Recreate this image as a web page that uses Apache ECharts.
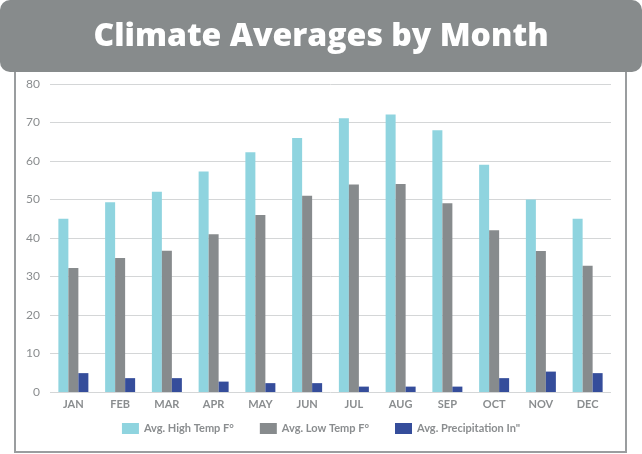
<!DOCTYPE html>
<html><head><meta charset="utf-8">
<script src="https://cdn.jsdelivr.net/npm/echarts@6/dist/echarts.min.js"></script>
<style>html,body{margin:0;padding:0;background:#fff}#c{width:642px;height:454px}</style>
</head><body><div id="c"></div>
<script>
const months = ['JAN','FEB','MAR','APR','MAY','JUN','JUL','AUG','SEP','OCT','NOV','DEC'];
const highTemp = [45, 49.3, 52, 57.3, 62.3, 66, 71.1, 72.1, 68, 59, 50, 45];
const lowTemp = [32.2, 34.8, 36.7, 41, 46, 51, 53.9, 54, 49, 42, 36.6, 32.8];
const precip = [4.9, 3.6, 3.6, 2.7, 2.3, 2.3, 1.4, 1.4, 1.4, 3.6, 5.3, 4.9];
const seriesNames = ['Avg. High Temp F°', 'Avg. Low Temp F°', 'Avg. Precipitation In"'];
const yTicks = {min: 0, max: 80, interval: 10};

const chart = echarts.init(document.getElementById('c'));
const txt = '#8a8d8f';
chart.setOption({
  animation: false,
  graphic: [
    {type:'rect', shape:{x:0,y:0,width:642,height:72,r:10}, style:{fill:'#878b8c'}, z:0},
    {type:'polyline', shape:{points:[[15,72],[15,452],[626,452],[626,72]]}, style:{stroke:'#9a9d9f', lineWidth:2, fill:null}, z:0},
    {type:'text', x:321, y:37, style:{text:'Climate Averages by Month', fill:'#fff', font:'800 32px "Open Sans"', textAlign:'center', textVerticalAlign:'middle'}, z:10}
  ],
  grid: {left:50, right:31, top:84, bottom:62},
  legend: {
    bottom: 15, left: 'center', itemWidth: 17, itemHeight: 11, itemGap: 26,
    icon: 'rect',
    textStyle: {color: txt, fontSize: 11, fontWeight: 'bold', fontFamily: 'Lato'},
    data: seriesNames
  },
  xAxis: {
    type:'category', data: months,
    axisLine:{show:false}, axisTick:{show:false},
    axisLabel:{color: txt, fontSize: 11, fontWeight:'bold', fontFamily:'Lato', margin: 7}
  },
  yAxis: {
    type:'value', min: yTicks.min, max: yTicks.max, interval: yTicks.interval,
    axisLine:{show:false}, axisTick:{show:false},
    axisLabel:{color: txt, fontSize: 12, fontFamily:'Lato', margin: 10},
    splitLine:{lineStyle:{color:'#d4d6d7', width:1}}
  },
  series: [
    {name: seriesNames[0], type:'bar', data: highTemp, barWidth:10, barGap:'0%', itemStyle:{color:'#8fd4df'}},
    {name: seriesNames[1], type:'bar', data: lowTemp, barWidth:10, barGap:'0%', itemStyle:{color:'#878b8d'}},
    {name: seriesNames[2], type:'bar', data: precip, barWidth:10, barGap:'0%', itemStyle:{color:'#354d9b'}}
  ]
});
</script></body></html>
